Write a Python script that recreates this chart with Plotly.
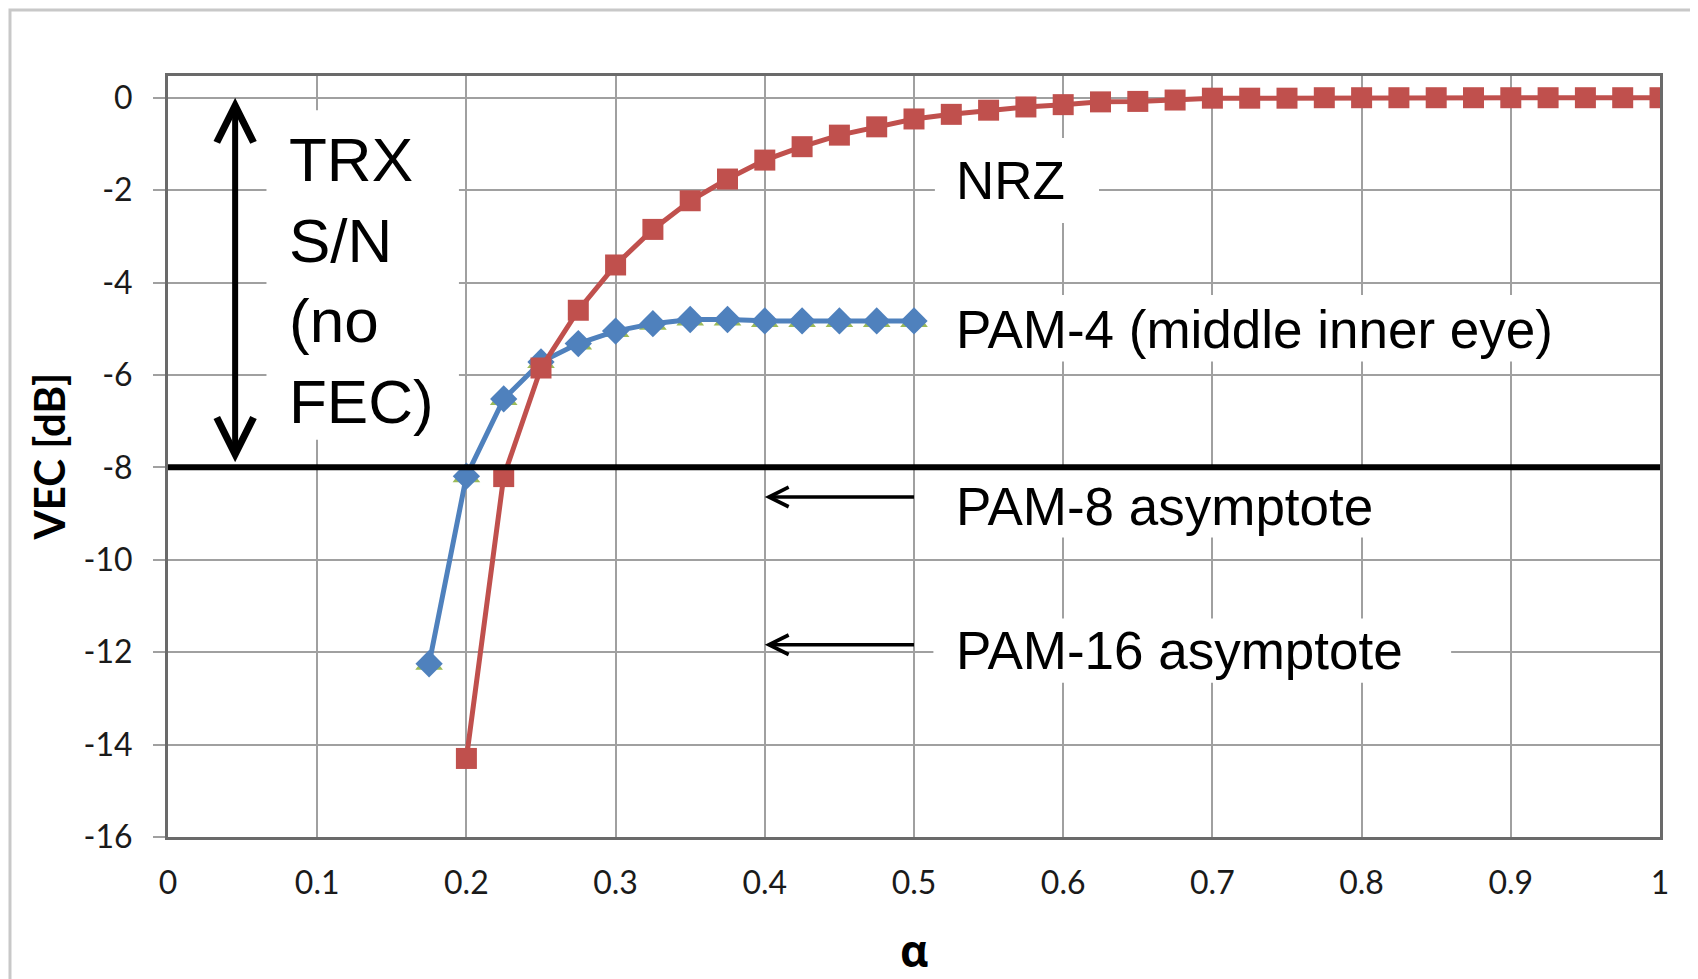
import plotly.graph_objects as go

# ---------------- data ----------------
alpha_nrz = [0.2, 0.225, 0.25, 0.275, 0.3, 0.325, 0.35, 0.375, 0.4, 0.425, 0.45,
             0.475, 0.5, 0.525, 0.55, 0.575, 0.6, 0.625, 0.65, 0.675, 0.7, 0.725,
             0.75, 0.775, 0.8, 0.825, 0.85, 0.875, 0.9, 0.925, 0.95, 0.975, 1.0]
vec_nrz = [-14.3, -8.2, -5.85, -4.6, -3.62, -2.85, -2.23, -1.76, -1.35, -1.06, -0.81,
           -0.63, -0.46, -0.36, -0.27, -0.20, -0.15, -0.09, -0.08, -0.05, -0.01, -0.01,
           -0.01, 0, 0, 0, 0, 0, 0, 0, 0, 0, 0]

alpha_pam4 = [0.175, 0.2, 0.225, 0.25, 0.275, 0.3, 0.325, 0.35, 0.375, 0.4, 0.425,
              0.45, 0.475, 0.5]
vec_pam4_middle = [-12.25, -8.19, -6.52, -5.72, -5.32, -5.05, -4.89, -4.80, -4.80,
                   -4.83, -4.83, -4.83, -4.83, -4.83]
vec_pam4_other = [-12.25, -8.19, -6.52, -5.72, -5.32, -5.05, -4.89, -4.80, -4.80,
                  -4.83, -4.83, -4.83, -4.83, -4.83]

trx_limit = -8          # TRX S/N (no FEC) = PAM-8 asymptote level
x_ticks = [0, 0.1, 0.2, 0.3, 0.4, 0.5, 0.6, 0.7, 0.8, 0.9, 1]
x_tick_labels = ["0", "0.1", "0.2", "0.3", "0.4", "0.5", "0.6", "0.7", "0.8", "0.9", "1"]
y_ticks = [0, -2, -4, -6, -8, -10, -12, -14, -16]
y_tick_labels = ["0", "-2", "-4", "-6", "-8", "-10", "-12", "-14", "-16"]

RED = "#C0504D"
BLUE = "#4F81BD"
GREEN = "#9BBB59"
GRID = "#A0A0A0"
TXT = "Liberation Sans, Arial, sans-serif"
TICKF = "Lato, Open Sans, sans-serif"

fig = go.Figure()

fig.add_trace(go.Scatter(
    x=alpha_pam4, y=vec_pam4_other, mode="markers",
    marker=dict(symbol="triangle-up", size=24, color=GREEN),
    showlegend=False, hoverinfo="skip"))
fig.add_trace(go.Scatter(
    x=alpha_pam4, y=vec_pam4_middle, mode="lines+markers",
    line=dict(color=BLUE, width=5),
    marker=dict(symbol="diamond", size=21, color=BLUE),
    showlegend=False))
fig.add_trace(go.Scatter(
    x=alpha_nrz, y=vec_nrz, mode="lines+markers",
    line=dict(color=RED, width=5),
    marker=dict(symbol="square", size=21, color=RED),
    showlegend=False))

shapes = []
# outer chart frame
shapes.append(dict(type="rect", xref="paper", yref="paper",
                   x0=-0.1059, x1=1.08, y0=-0.3, y1=1.0867,
                   line=dict(color="#C8C8C8", width=3), fillcolor="rgba(0,0,0,0)",
                   layer="below"))
# white boxes behind labels (hide gridlines)
boxes = [
    (0.066, 0.195, -0.27, -7.4),     # TRX S/N
    (0.514, 0.624, -0.87, -2.71),    # NRZ
    (0.511, 0.947, -4.27, -5.71),    # PAM-4
    (0.513, 0.826, -8.05, -9.52),    # PAM-8
    (0.513, 0.860, -11.27, -12.66),  # PAM-16
]
for x0, x1, y0, y1 in boxes:
    shapes.append(dict(type="rect", xref="x", yref="y", x0=x0, x1=x1, y0=y0, y1=y1,
                       fillcolor="white", line=dict(width=0), layer="between"))
# black TRX limit line
shapes.append(dict(type="line", xref="x", yref="y", x0=0, x1=1, y0=trx_limit, y1=trx_limit,
                   line=dict(color="black", width=6), layer="above"))

annotations = []
# double arrow
annotations.append(dict(x=0.045, y=0, ax=0.045, ay=-7.92, xref="x", yref="y",
                        axref="x", ayref="y", text="", showarrow=True,
                        arrowside="end+start", arrowhead=5, startarrowhead=5,
                        arrowwidth=6, arrowsize=1.2, startarrowsize=1.2,
                        arrowcolor="black"))
# asymptote arrows
for yy in [-8.64, -11.84]:
    annotations.append(dict(x=0.4, y=yy, ax=0.501, ay=yy, xref="x", yref="y",
                            axref="x", ayref="y", text="", showarrow=True,
                            arrowhead=5, arrowwidth=3.5, arrowsize=1.1,
                            arrowcolor="black"))
# text labels
labels = [
    ("TRX<br>S/N<br>(no<br>FEC)", 0.080, -3.95, 62),
    ("NRZ", 0.527, -1.79, 53),
    ("PAM-4 (middle inner eye)", 0.527, -5.02, 53),
    ("PAM-8 asymptote", 0.527, -8.84, 53),
    ("PAM-16 asymptote", 0.527, -11.97, 53),
]
for t, xx, yy, fs in labels:
    annotations.append(dict(x=xx, y=yy, xref="x", yref="y", text=t, showarrow=False,
                            xanchor="left", yanchor="middle", align="left",
                            font=dict(family=TXT, size=fs, color="black")))
# axis titles
annotations.append(dict(x=-0.0798, y=0.5, xref="paper", yref="paper",
                        text="<b>VEC [dB]</b>", textangle=-90, showarrow=False,
                        xanchor="center", yanchor="middle",
                        font=dict(family=TICKF, size=42, color="black")))
annotations.append(dict(x=0.5, y=-0.1485, xref="paper", yref="paper",
                        text="<b>α</b>", showarrow=False,
                        xanchor="center", yanchor="middle",
                        font=dict(family="Open Sans, DejaVu Sans, sans-serif", size=44, color="black")))

# the page body adds an 8px offset, so the figure is drawn 8px smaller
fig.update_layout(
    width=1690, height=971,
    margin=dict(l=160, r=38, t=68, b=142),
    paper_bgcolor="white", plot_bgcolor="white",
    shapes=shapes, annotations=annotations,
    xaxis=dict(range=[0, 1], tickvals=x_ticks, ticktext=x_tick_labels,
               showgrid=True, gridcolor=GRID, gridwidth=2, zeroline=False,
               showline=True, linecolor="#6A6A6A", linewidth=3, mirror=True,
               ticks="", ticklabelstandoff=16,
               tickfont=dict(family=TICKF, size=32, color="#1a1a1a")),
    yaxis=dict(range=[-16, 0.47], tickvals=y_ticks, ticktext=y_tick_labels,
               showgrid=True, gridcolor=GRID, gridwidth=2, zeroline=False,
               showline=True, linecolor="#6A6A6A", linewidth=3, mirror=True,
               ticks="outside", ticklen=12, tickwidth=2, tickcolor=GRID,
               ticklabelstandoff=14,
               tickfont=dict(family=TICKF, size=32, color="#1a1a1a")),
)

fig.write_html("out.html")
